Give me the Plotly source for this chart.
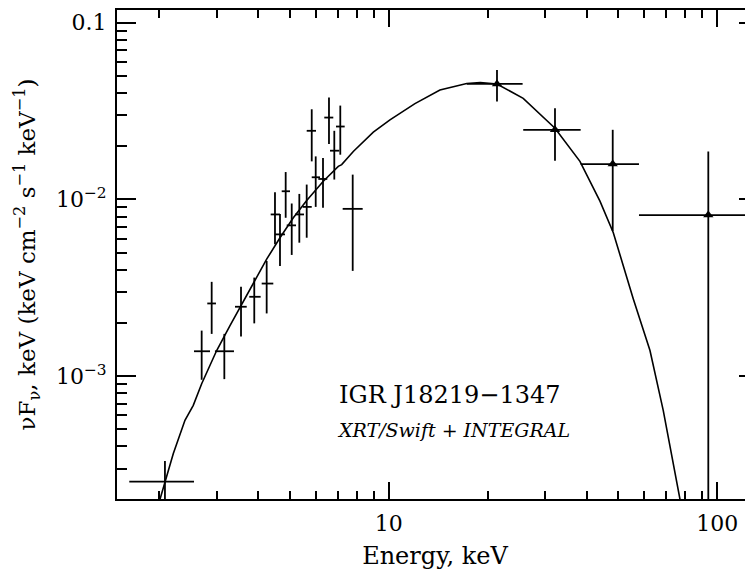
import plotly.graph_objects as go

# ---- XRT/Swift soft X-ray points (keV, keV cm^-2 s^-1 keV^-1) ----
xrt_e    = [2.085, 2.697, 2.893, 3.161, 3.553, 3.899, 4.253, 4.508, 4.669, 4.859,
            5.069, 5.346, 5.630, 5.832, 5.997, 6.311, 6.581, 6.831, 7.124, 7.771]
xrt_elo  = [1.624, 2.556, 2.805, 2.960, 3.406, 3.765, 4.107, 4.374, 4.508, 4.726,
            4.894, 5.186, 5.474, 5.630, 5.832, 6.107, 6.368, 6.628, 6.913, 7.244]
xrt_ehi  = [2.556, 2.859, 2.981, 3.382, 3.698, 4.077, 4.455, 4.669, 4.835, 5.008,
            5.224, 5.524, 5.832, 6.010, 6.180, 6.503, 6.783, 7.075, 7.347, 8.334]
xrt_f    = [2.53e-4, 1.383e-3, 2.578e-3, 1.383e-3, 2.470e-3, 2.812e-3, 3.341e-3, 8.22e-3,
            6.34e-3, 1.112e-2, 7.13e-3, 8.22e-3, 9.07e-3, 2.444e-2, 1.334e-2, 1.305e-2,
            2.904e-2, 1.886e-2, 2.584e-2, 8.84e-3]
xrt_flo  = [1.5e-4, 9.54e-4, 1.734e-3, 9.62e-4, 1.674e-3, 1.989e-3, 2.264e-3, 5.57e-3,
            4.20e-3, 7.87e-3, 4.85e-3, 5.69e-3, 6.07e-3, 1.641e-2, 9.07e-3, 8.96e-3,
            2.055e-2, 1.295e-2, 1.790e-2, 3.94e-3]
xrt_fhi  = [3.31e-4, 1.81e-3, 3.416e-3, 1.734e-3, 3.202e-3, 3.611e-3, 4.486e-3, 1.098e-2,
            8.28e-3, 1.428e-2, 9.48e-3, 1.074e-2, 1.213e-2, 3.235e-2, 1.751e-2, 1.713e-2,
            3.765e-2, 2.444e-2, 3.394e-2, 1.381e-2]

# ---- INTEGRAL hard X-ray points ----
int_e   = [21.36, 32.07, 48.06, 93.9]
int_elo = [17.28, 25.67, 38.39, 57.77]
int_ehi = [25.56, 38.39, 57.77, 160.0]
int_f   = [4.50e-2, 2.476e-2, 1.585e-2, 8.15e-3]
int_flo = [3.574e-2, 1.656e-2, 6.62e-3, 1.0e-4]
int_fhi = [5.39e-2, 3.277e-2, 2.476e-2, 1.868e-2]

# ---- model curve ----
model_e = [2.014, 2.085, 2.211, 2.399, 2.543, 2.697, 2.996, 3.289, 3.528, 3.784, 4.077,
           4.253, 4.669, 5.126, 5.630, 6.324, 7.025, 7.194, 7.804, 8.979, 10.09, 12.02,
           14.32, 17.28, 19.0, 21.36, 25.67, 32.07, 38.20, 43.95, 48.26, 55.52, 62.40,
           68.47, 77.00]
model_f = [2.012e-4, 2.53e-4, 3.654e-4, 5.63e-4, 6.84e-4, 9.06e-4, 1.396e-3, 1.930e-3,
           2.447e-3, 3.04e-3, 3.94e-3, 4.59e-3, 6.07e-3, 7.87e-3, 9.86e-3, 1.267e-2,
           1.538e-2, 1.573e-2, 1.868e-2, 2.40e-2, 2.818e-2, 3.48e-2, 4.16e-2, 4.53e-2,
           4.58e-2, 4.50e-2, 3.73e-2, 2.528e-2, 1.641e-2, 9.77e-3, 6.48e-3, 2.73e-3,
           1.396e-3, 6.41e-4, 2.012e-4]

x_major = [10, 100]
x_major_text = ["10", "100"]
x_minor = [2, 3, 4, 5, 6, 7, 8, 9, 20, 30, 40, 50, 60, 70, 80, 90]
y_major = [1e-3, 1e-2, 1e-1]
y_major_text = ["10<sup>−3</sup>", "10<sup>−2</sup>", "0.1"]
y_minor = [3e-4, 4e-4, 5e-4, 6e-4, 7e-4, 8e-4, 9e-4,
           2e-3, 3e-3, 4e-3, 5e-3, 6e-3, 7e-3, 8e-3, 9e-3,
           2e-2, 3e-2, 4e-2, 5e-2, 6e-2, 7e-2, 8e-2, 9e-2]

FONT = "DejaVu Serif"


def errs(v, lo, hi):
    return [h - a for a, h in zip(v, hi)], [a - l for a, l in zip(v, lo)]


fig = go.Figure()

fig.add_trace(go.Scatter(x=model_e, y=model_f, mode="lines",
                         line=dict(color="black", width=1.6), showlegend=False))

ex_p, ex_m = errs(xrt_e, xrt_elo, xrt_ehi)
ey_p, ey_m = errs(xrt_f, xrt_flo, xrt_fhi)
fig.add_trace(go.Scatter(
    x=xrt_e, y=xrt_f, mode="markers", marker=dict(size=1, color="black"),
    error_x=dict(type="data", symmetric=False, array=ex_p, arrayminus=ex_m,
                 color="black", thickness=1.8, width=0),
    error_y=dict(type="data", symmetric=False, array=ey_p, arrayminus=ey_m,
                 color="black", thickness=1.8, width=0),
    showlegend=False))

ix_p, ix_m = errs(int_e, int_elo, int_ehi)
iy_p, iy_m = errs(int_f, int_flo, int_fhi)
fig.add_trace(go.Scatter(
    x=int_e, y=int_f, mode="markers",
    marker=dict(symbol="triangle-up", size=9, color="black"),
    error_x=dict(type="data", symmetric=False, array=ix_p, arrayminus=ix_m,
                 color="black", thickness=1.8, width=0),
    error_y=dict(type="data", symmetric=False, array=iy_p, arrayminus=iy_m,
                 color="black", thickness=1.8, width=0),
    showlegend=False))

# invisible trace to activate right-side tick axis
fig.add_trace(go.Scatter(x=[10], y=[1e-2], yaxis="y2", mode="markers",
                         marker=dict(size=1, opacity=0), showlegend=False,
                         hoverinfo="skip"))

# page has an 8px body margin: figure is 745x563 placed at (8, 8)
Y_RANGE = [-3.695, -0.9285]

fig.update_layout(
    width=745, height=563,
    margin=dict(l=109, r=0, t=0, b=72),
    paper_bgcolor="white", plot_bgcolor="white",
    font=dict(family=FONT, color="black", size=22),
    xaxis=dict(type="log", range=[0.1732, 2.1087],
               showline=True, linecolor="black", linewidth=2, mirror="ticks",
               showgrid=False, zeroline=False,
               ticks="inside", ticklen=17, tickwidth=1.6, tickcolor="black",
               tickmode="array", tickvals=x_major, ticktext=x_major_text,
               ticklabelstandoff=4,
               tickfont=dict(family=FONT, size=22),
               minor=dict(tickmode="array", tickvals=x_minor, ticks="inside",
                          ticklen=8, tickwidth=1.6, tickcolor="black", showgrid=False),
               title=dict(text="Energy, keV", font=dict(family=FONT, size=24), standoff=12)),
    yaxis=dict(type="log", range=Y_RANGE,
               showline=True, linecolor="black", linewidth=2, mirror=False,
               showgrid=False, zeroline=False,
               ticks="inside", ticklen=19, tickwidth=1.6, tickcolor="black",
               tickmode="array", tickvals=y_major, ticktext=y_major_text,
               ticklabelstandoff=4,
               tickfont=dict(family=FONT, size=22),
               minor=dict(tickmode="array", tickvals=y_minor, ticks="inside",
                          ticklen=10, tickwidth=1.6, tickcolor="black", showgrid=False),
               title=dict(text="νF<sub>ν</sub>, keV (keV cm<sup>−2</sup> s<sup>−1</sup> keV<sup>−1</sup>)",
                          font=dict(family=FONT, size=23), standoff=14)),
    yaxis2=dict(type="log", range=Y_RANGE, overlaying="y", side="right",
                showline=False, showgrid=False, zeroline=False, showticklabels=False,
                ticks="inside", ticklen=14, tickwidth=1.6, tickcolor="black",
                tickmode="array", tickvals=y_major,
                minor=dict(tickmode="array", tickvals=y_minor, ticks="inside",
                           ticklen=6, tickwidth=1.6, tickcolor="black", showgrid=False)),
    annotations=[
        dict(text="IGR J18219−1347", x=450, y=411, xref="paper", yref="paper",
             showarrow=False, font=dict(family=FONT, size=24)),
        dict(text="<i>XRT/Swift + INTEGRAL</i>", x=453, y=443, xref="paper", yref="paper",
             showarrow=False, font=dict(family=FONT, size=19)),
    ],
)

# convert page-pixel annotation anchors to paper coords
pl, pr, pt, pb = 117, 753, 8, 499
for a in fig.layout.annotations:
    a.x = (a.x - pl) / (pr - pl)
    a.y = (pb - a.y) / (pb - pt)

fig.write_html("out.html")
